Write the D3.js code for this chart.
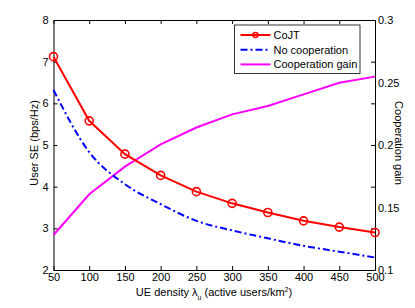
<meta charset="utf-8" />
<script src="https://d3js.org/d3.v7.min.js"></script>
<style>
  body { margin: 0; background: #fff; }
  text { font-family: 'Liberation Sans', Arial, sans-serif; }
</style>
<div id="chart"></div>
<script>
  // data
  const ueDensity = [50, 100, 150, 200, 250, 300, 350, 400, 450, 500];
  const cojtSE = [7.12, 5.58, 4.78, 4.27, 3.88, 3.6, 3.38, 3.18, 3.03, 2.9];
  const noCoopSE = [6.32, 4.83, 4.06, 3.58, 3.18, 2.95, 2.76, 2.58, 2.44, 2.3];
  const coopGain = [0.128, 0.1606, 0.1827, 0.2005, 0.214, 0.2245, 0.2312, 0.2405, 0.2498, 0.2547];
  const xTicks = [50, 100, 150, 200, 250, 300, 350, 400, 450, 500];
  const yTicks = [2, 3, 4, 5, 6, 7, 8];
  const y2Labels = [0.1, 0.15, 0.2, 0.25, 0.3];
  const legendNames = ['CoJT', 'No cooperation', 'Cooperation gain'];

  const W = 415, H = 308;
  const margin = { top: 20, right: 40, bottom: 38, left: 53.5 };
  const width = W - margin.left - margin.right,
    height = H - margin.top - margin.bottom;

  const svg = d3.select('#chart').append('svg')
    .attr('width', W).attr('height', H);
  const g = svg.append('g')
    .attr('transform', `translate(${margin.left},${margin.top})`);

  const x = d3.scaleLinear().domain([50, 500]).range([0, width]);
  const y = d3.scaleLinear().domain([2, 8]).range([height, 0]);
  const y2 = d3.scaleLinear().domain([0.1, 0.3]).range([height, 0]);

  function styleAxis(sel) {
    sel.select('.domain').attr('stroke', '#000').attr('stroke-width', 1);
    sel.selectAll('line').attr('stroke', '#000').attr('stroke-width', 1);
    sel.selectAll('text').attr('font-size', 11).attr('fill', '#000')
      .attr('font-family', "'Liberation Sans', Arial, sans-serif");
  }

  // bottom & top
  g.append('g').attr('transform', `translate(0,${height})`)
    .call(d3.axisBottom(x).tickValues(xTicks).tickSize(-4).tickPadding(3).tickSizeOuter(0))
    .call(styleAxis);
  g.append('g')
    .call(d3.axisTop(x).tickValues(xTicks).tickSize(-4).tickFormat('').tickSizeOuter(0))
    .call(styleAxis);
  // left
  g.append('g')
    .call(d3.axisLeft(y).tickValues(yTicks).tickSize(-4).tickPadding(5).tickFormat(d3.format('d')).tickSizeOuter(0))
    .call(styleAxis);
  // right: ticks at left tick positions, labels at 0.05 steps
  g.append('g').attr('transform', `translate(${width},0)`)
    .call(d3.axisRight(y2).tickValues(yTicks.map(v => y2.invert(y(v)))).tickSize(-4).tickFormat('').tickSizeOuter(0))
    .call(styleAxis);
  g.append('g').attr('transform', `translate(${width},0)`)
    .call(d3.axisRight(y2).tickValues(y2Labels).tickSize(0).tickPadding(3).tickFormat(d3.format('')).tickSizeOuter(0))
    .call(styleAxis)
    .call(s => s.select('.domain').remove());

  const line1 = d3.line().x((d, i) => x(ueDensity[i])).y(d => y(d));
  const line2 = d3.line().x((d, i) => x(ueDensity[i])).y(d => y2(d));
  const lineSmooth = d3.line().x((d, i) => x(ueDensity[i])).y(d => y(d))
    .curve(d3.curveMonotoneX);

  g.append('path').datum(coopGain).attr('d', line2)
    .attr('fill', 'none').attr('stroke', '#ff00ff').attr('stroke-width', 2);
  g.append('path').datum(noCoopSE).attr('d', lineSmooth)
    .attr('fill', 'none').attr('stroke', '#0000ff').attr('stroke-width', 2)
    .attr('stroke-dasharray', '7,3,2,3');
  g.append('path').datum(cojtSE).attr('d', line1)
    .attr('fill', 'none').attr('stroke', '#ff0000').attr('stroke-width', 2);
  g.selectAll('.mk').data(cojtSE).join('circle')
    .attr('cx', (d, i) => x(ueDensity[i])).attr('cy', d => y(d))
    .attr('r', 4).attr('fill', 'none').attr('stroke', '#ff0000').attr('stroke-width', 1.6);

  // axis labels
  svg.append('text').attr('x', 214).attr('y', 296).attr('text-anchor', 'middle')
    .attr('font-size', 11)
    .html('UE density λ<tspan font-size="7" dy="4">u</tspan><tspan dy="-4"> (active users/km</tspan><tspan font-size="7" dy="-4">2</tspan><tspan dy="4">)</tspan>');
  svg.append('text').attr('transform', 'translate(38,143) rotate(-90)')
    .attr('text-anchor', 'middle').attr('font-size', 11).text('User SE (bps/Hz)');
  svg.append('text').attr('transform', 'translate(395,143) rotate(90)')
    .attr('text-anchor', 'middle').attr('font-size', 11).text('Cooperation gain');

  // legend
  const lg = svg.append('g').attr('transform', 'translate(234.5,25)');
  lg.append('rect').attr('width', 125.5).attr('height', 48.5)
    .attr('fill', '#fff').attr('stroke', '#000').attr('stroke-width', 0.8);
  const colors = ['#ff0000', '#0000ff', '#ff00ff'];
  const dashes = [null, '7,3,2,3', null];
  legendNames.forEach((name, i) => {
    const yy = 10 + i * 14.7;
    lg.append('line').attr('x1', 6).attr('x2', 36).attr('y1', yy).attr('y2', yy)
      .attr('stroke', colors[i]).attr('stroke-width', 2)
      .attr('stroke-dasharray', dashes[i]);
    if (i === 0) {
      lg.append('circle').attr('cx', 21).attr('cy', yy).attr('r', 2.5)
        .attr('fill', 'none').attr('stroke', '#ff0000').attr('stroke-width', 1.5);
    }
    lg.append('text').attr('x', 39).attr('y', yy + 4).attr('font-size', 11).text(name);
  });
</script>
